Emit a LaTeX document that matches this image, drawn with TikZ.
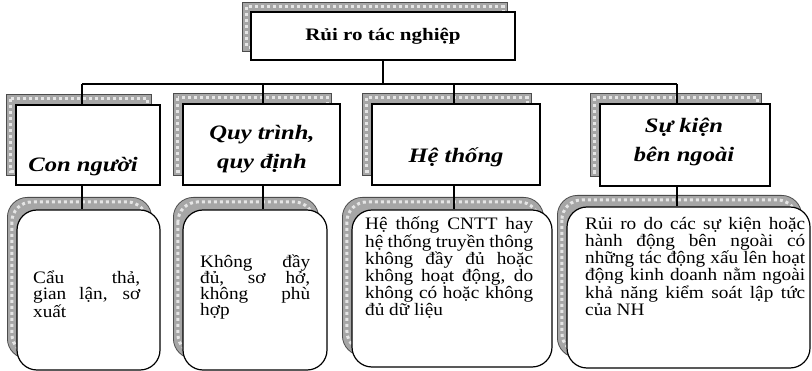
\documentclass[tikz,border=0pt]{standalone}
\usepackage{fontspec}
\setmainfont{Liberation Serif}[FakeStretch=1.2]
\newfontfamily\bodyfont{Liberation Serif}[FakeStretch=1.1]
\pgfdeclarelayer{back}
\pgfsetlayers{back,main}

\tikzset{
  box/.style={draw, line width=1.2pt, fill=white, inner sep=0pt},
  roundbox/.style={box, rounded corners=20pt},
  link/.style={line width=1.2pt},
  title/.style={font=\fontsize{17.5}{20}\selectfont\bfseries},
  head/.style={inner sep=0pt, align=center,
    font=\fontsize{20.5}{29}\selectfont\bfseries\itshape},
  para/.style={inner sep=0pt, align=justify,
    font=\bodyfont\fontsize{17.5}{16}\selectfont},
}

% textured drop shadow behind a named box: node, dx, dy, corner radius
\newcommand{\boxshadow}[4]{%
  \begin{pgfonlayer}{back}
    \fill[gray!70, draw=black!70, line width=0.8pt, rounded corners=#4]
      ([shift={(#2,#3)}]#1.north west) rectangle ([shift={(#2,#3)}]#1.south east);
    \draw[gray!20, line width=3pt, dash pattern=on 3pt off 3pt, rounded corners=#4]
      ([shift={(#2+4.5,#3+4.5)}]#1.north west) rectangle ([shift={(#2-4.5,#3-4.5)}]#1.south east);
  \end{pgfonlayer}}

\begin{document}
\begin{tikzpicture}[x=1pt, y=-1pt]
  \useasboundingbox (0,0) rectangle (812,371);

  % root
  \node[box, minimum width=264pt, minimum height=48pt] (top) at (383,36) {};
  \node[title] (topt) at (top.center) {Rủi ro tác nghiệp};

  % risk categories
  \node[box, minimum width=144pt, minimum height=80pt] (k1) at (88,145) {};
  \node[box, minimum width=157pt, minimum height=81pt] (k2) at (261.5,144.5) {};
  \node[box, minimum width=168pt, minimum height=81pt] (k3) at (456,144.5) {};
  \node[box, minimum width=170pt, minimum height=82pt] (k4) at (685,145) {};

  \node[head, anchor=base] (k1t) at (83,172) {Con người};
  \node[head, anchor=base] (k2t) at (262,169) {Quy trình,\\quy định};
  \node[head, anchor=base] (k3t) at (456,163) {Hệ thống};
  \node[head, anchor=base] (k4t) at (684,162) {Sự kiện\\bên ngoài};

  % descriptions
  \node[roundbox, minimum width=143pt, minimum height=160pt] (d1) at (88.5,290) {};
  \node[roundbox, minimum width=144pt, minimum height=160pt] (d2) at (255,290) {};
  \node[roundbox, minimum width=200pt, minimum height=157pt] (d3) at (452,288.5) {};
  \node[roundbox, minimum width=243pt, minimum height=161pt] (d4) at (688.5,287.5) {};

  \node[para, text width=107pt, anchor=base west] (d1t) at (33,284)
    {Cẩu thả,\linebreak gian lận, sơ\linebreak xuất};
  \node[para, text width=110pt, anchor=base west] (d2t) at (200,268)
    {Không đầy\linebreak đủ, sơ hở,\linebreak không phù\linebreak hợp};
  \node[para, text width=168pt, anchor=base west, font=\bodyfont\fontsize{17.5}{15}\selectfont] (d3t) at (365,230)
    {Hệ thống CNTT hay\linebreak hệ thống truyền thông\linebreak không đầy đủ hoặc\linebreak
     không hoạt động, do\linebreak không có hoặc không\linebreak đủ dữ liệu};
  \node[para, text width=220pt, anchor=base west, font=\bodyfont\fontsize{17.5}{15}\selectfont] (d4t) at (585,230)
    {Rủi ro do các sự kiện hoặc\linebreak hành động bên ngoài có\linebreak
     những tác động xấu lên hoạt\linebreak động kinh doanh nằm ngoài\linebreak
     khả năng kiểm soát lập tức\linebreak của NH};

  % shadows
  \boxshadow{top}{-8}{-9}{0pt}
  \boxshadow{k1}{-9}{-10}{0pt}
  \boxshadow{k2}{-9}{-10}{0pt}
  \boxshadow{k3}{-9}{-10}{0pt}
  \boxshadow{k4}{-9}{-10}{0pt}
  \boxshadow{d1}{-9}{-12}{20pt}
  \boxshadow{d2}{-9}{-12}{20pt}
  \boxshadow{d3}{-9}{-12}{20pt}
  \boxshadow{d4}{-9}{-11}{20pt}

  % connectors
  \coordinate (c1) at (82,84);
  \coordinate (c2) at (263,84);
  \coordinate (c3) at (454,84);
  \coordinate (c4) at (677,84);
  \draw[link] (top.south) -- (top.south |- c1);
  \draw[link] (c1) -- (c4);
  \draw[link] (c1) -- (c1 |- k1.north);
  \draw[link] (c2) -- (c2 |- k2.north);
  \draw[link] (c3) -- (c3 |- k3.north);
  \draw[link] (c4) -- (c4 |- k4.north);
  \draw[link] (c1 |- k1.south) -- (c1 |- d1.north);
  \draw[link] (c2 |- k2.south) -- (c2 |- d2.north);
  \draw[link] (c3 |- k3.south) -- (c3 |- d3.north);
  \draw[link] (c4 |- k4.south) -- (c4 |- d4.north);
\end{tikzpicture}
\end{document}
